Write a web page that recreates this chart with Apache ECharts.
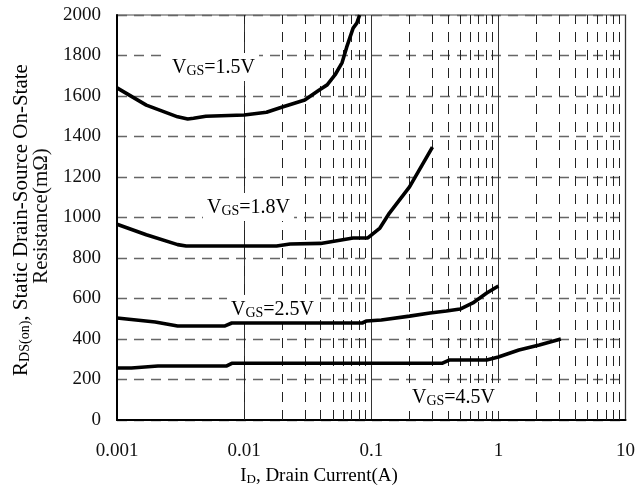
<!DOCTYPE html>
<html>
<head>
<meta charset="utf-8">
<script src="https://cdn.jsdelivr.net/npm/echarts@6/dist/echarts.min.js"></script>
<style>html,body{margin:0;padding:0;background:#fff}#c{width:638px;height:493px}</style>
</head>
<body>
<div id="c"></div>
<script>
// Data (Drain current in A, resistance in mΩ)
var x15 = [0.001, 0.0017, 0.003, 0.0036, 0.004, 0.005, 0.01, 0.015, 0.02, 0.03, 0.039, 0.045, 0.052, 0.059, 0.064, 0.072, 0.077, 0.081];
var y15 = [1640, 1555, 1497, 1486, 1490, 1500, 1506, 1520, 1546, 1580, 1630, 1655, 1705, 1765, 1840, 1935, 1960, 2000];
var x18 = [0.001, 0.0017, 0.003, 0.0035, 0.018, 0.023, 0.04, 0.072, 0.094, 0.117, 0.139, 0.2, 0.303];
var y18 = [967, 915, 866, 859, 859, 869, 872, 899, 899, 948, 1022, 1151, 1348];
var x25 = [0.001, 0.002, 0.003, 0.007, 0.008, 0.085, 0.092, 0.12, 0.2, 0.29, 0.39, 0.5, 0.63, 0.81, 1.0];
var y25 = [504, 484, 464, 464, 479, 479, 489, 494, 513, 528, 538, 548, 578, 627, 662];
var x45 = [0.001, 0.0013, 0.0021, 0.0073, 0.008, 0.36, 0.41, 0.81, 1.0, 1.45, 2.1, 3.1];
var y45 = [257, 257, 267, 267, 280, 280, 296, 296, 311, 346, 370, 400];
var seriesNames = ['VGS=1.5V', 'VGS=1.8V', 'VGS=2.5V', 'VGS=4.5V'];
var xTickValues = [0.001, 0.01, 0.1, 1, 10];
var xTickLabels = ['0.001', '0.01', '0.1', '1', '10'];
var yTicks = [0, 200, 400, 600, 800, 1000, 1200, 1400, 1600, 1800, 2000];
var minorMult = [2, 3, 4, 5, 6, 7, 8, 9];
var decades = [0.001, 0.01, 0.1, 1];

function pairs(xs, ys) { return xs.map(function (x, i) { return [x, ys[i]]; }); }
var minorLines = [];
decades.forEach(function (d) { minorMult.forEach(function (m) { minorLines.push({ xAxis: +(d * m).toPrecision(3) }); }); });

var FONT = '"Liberation Serif", "DejaVu Serif", serif';
var chart = echarts.init(document.getElementById('c'), null, { renderer: 'canvas' });

function curve(name, xs, ys) {
  return {
    name: name, type: 'line', data: pairs(xs, ys), showSymbol: false, symbol: 'none',
    lineStyle: { color: '#000', width: 3.6 }, z: 8, silent: true, animation: false
  };
}
var richLbl = {
  m: { fontFamily: FONT, fontSize: 20, color: '#111', verticalAlign: 'bottom', lineHeight: 22 },
  s: { fontFamily: FONT, fontSize: 14, color: '#111', verticalAlign: 'bottom', lineHeight: 22 }
};
function vlabel(x, y, v) {
  return {
    type: 'text', left: x, top: y, z: 7,
    style: { text: '{m|V}{s|GS}{m|=' + v + '}', rich: richLbl, backgroundColor: '#fff', padding: [3, 4, 3, 4] }
  };
}
var subRich = {
  m: { fontFamily: FONT, fontSize: 19, color: '#111', verticalAlign: 'bottom', lineHeight: 22 },
  s: { fontFamily: FONT, fontSize: 13, color: '#111', verticalAlign: 'bottom', lineHeight: 22 }
};
var yRich = {
  m: { fontFamily: FONT, fontSize: 21, color: '#111', verticalAlign: 'bottom', lineHeight: 24 },
  s: { fontFamily: FONT, fontSize: 14, color: '#111', verticalAlign: 'bottom', lineHeight: 24 }
};

chart.setOption({
  animation: false,
  backgroundColor: '#fff',
  grid: { left: 117, top: 15, right: 12, bottom: 73, show: true, borderColor: '#888', borderWidth: 1.5, backgroundColor: 'transparent' },
  xAxis: {
    type: 'log', logBase: 10, min: 0.001, max: 10,
    axisLine: { show: true, onZero: false, lineStyle: { color: '#000', width: 2 } },
    axisTick: { show: false },
    axisLabel: {
      margin: 22, color: '#111', fontFamily: FONT, fontSize: 19,
      formatter: function (v) {
        for (var i = 0; i < xTickValues.length; i++) { if (Math.abs(Math.log10(v) - Math.log10(xTickValues[i])) < 1e-6) return xTickLabels[i]; }
        return '';
      }
    },
    splitLine: { show: true, lineStyle: { color: '#333', width: 1, type: 'solid' } }
  },
  yAxis: {
    type: 'value', min: 0, max: 2000, interval: 200,
    axisLine: { show: true, lineStyle: { color: '#000', width: 2 } },
    axisTick: { show: false },
    axisLabel: { margin: 16, color: '#111', fontFamily: FONT, fontSize: 19,
      formatter: function (v) { return yTicks.indexOf(v) >= 0 ? String(v) : ''; } },
    splitLine: { show: true, lineStyle: { color: '#666', width: 1.3, type: [10, 7] } }
  },
  series: [
    {
      type: 'line', data: [], silent: true, z: 1,
      markLine: {
        z: 1, silent: true, symbol: ['none', 'none'], label: { show: false }, animation: false,
        lineStyle: { color: '#222', width: 1, type: [10, 8] },
        data: minorLines
      }
    },
    curve(seriesNames[0], x15, y15),
    curve(seriesNames[1], x18, y18),
    curve(seriesNames[2], x25, y25),
    curve(seriesNames[3], x45, y45)
  ],
  graphic: [
    vlabel(168, 53, '1.5V'),
    vlabel(203, 193, '1.8V'),
    vlabel(227, 295, '2.5V'),
    vlabel(408, 383, '4.5V'),
    {
      type: 'text', left: 'center', top: 467, z: 10,
      style: { text: '{m|I}{s|D}{m|, Drain Current(A)}', rich: subRich }
    },
    {
      type: 'group', x: 20, y: 220, rotation: Math.PI / 2, z: 10,
      children: [
        {
          type: 'text', x: 0, y: 0,
          style: {
            text: '{m|R}{s|DS(on)}{m|, Static Drain-Source On-State}',
            align: 'center', verticalAlign: 'middle', rich: yRich
          }
        },
        {
          type: 'text', x: 4, y: 21,
          style: {
            text: 'Resistance(m\u03A9)', align: 'center', verticalAlign: 'middle',
            font: '21px ' + FONT, fill: '#111'
          }
        }
      ]
    }
  ]
});
</script>
</body>
</html>
